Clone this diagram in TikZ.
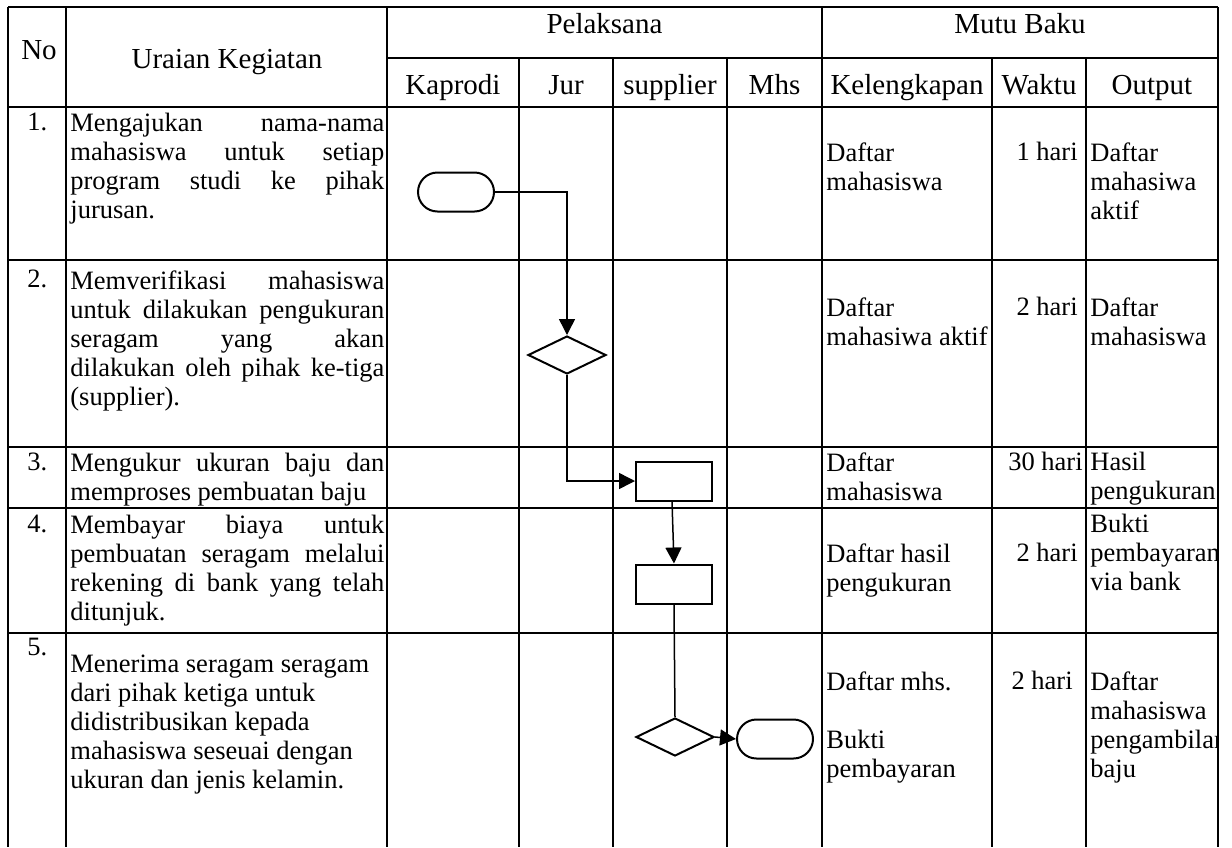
\documentclass[tikz,border=0pt]{standalone}
\usepackage{fontspec}
\setmainfont{Liberation Serif}
\usetikzlibrary{arrows.meta,shapes.geometric}

\newcommand{\jl}[1]{\makebox[157pt][s]{#1}}

\begin{document}
\begin{tikzpicture}[x=0.5pt, y=-0.5pt, >={Triangle[length=8pt,width=8pt]},
  tabline/.style={line width=0.65pt},
  terminal/.style={draw, line width=1pt, rounded corners=9.75pt, minimum width=38pt, minimum height=19.5pt, inner sep=0pt},
  process/.style={draw, line width=1pt, minimum width=38pt, minimum height=19.5pt, inner sep=0pt},
  decision/.style={draw, diamond, line width=1pt, minimum width=39pt, minimum height=19pt, inner sep=0pt},
  link/.style={line width=0.75pt},
  headtxt/.style={font=\fontsize{14.5}{16}\selectfont, inner sep=0pt},
  celltxt/.style={font=\fontsize{13.25}{14.5}\selectfont, inner sep=0pt, align=left}]

\useasboundingbox (0,0) rectangle (1232,847);

% Garis tabel

\foreach \y in {7,107,260,447,508,633}
  \draw [tabline] (8,\y) -- (1218,\y);
\draw [tabline] (387,58) -- (1218,58);

\foreach \x in {8,66,387,822,1218}
  \draw [tabline] (\x,7) -- (\x,847);

\foreach \x in {519,613,727,992,1086}
  \draw [tabline] (\x,58) -- (\x,847);

% Judul kolom

\node [headtxt, anchor=base] (h-no) at (39,59) {No};
\node [headtxt, anchor=base] (h-uraian) at (227,68) {Uraian Kegiatan};
\node [headtxt, anchor=base] (h-pelaksana) at (604.5,33) {Pelaksana};
\node [headtxt, anchor=base] (h-mutu) at (1020,33) {Mutu Baku};

\foreach \l/\x in {Kaprodi/453,Jur/566,supplier/670,Mhs/774.5,Kelengkapan/907,Waktu/1039,Output/1152}
  \node [headtxt, anchor=base] (h-\l) at (\x,94) {\l};

% Nomor dan uraian kegiatan

\foreach \n/\y in {1/113,2/270,3/453,4/515,5/638}
  \node [celltxt, anchor=north west] (no-\n) at (27,\y) {\n.};

\node [celltxt, anchor=north west] (u-1) at (70,113)
  {\jl{Mengajukan nama-nama}\\\jl{mahasiswa untuk setiap}\\\jl{program studi ke pihak}\\jurusan.};
\node [celltxt, anchor=north west] (u-2) at (70,270)
  {\jl{Memverifikasi mahasiswa}\\\jl{untuk dilakukan pengukuran}\\\jl{seragam yang akan}\\\jl{dilakukan oleh pihak ke-tiga}\\(supplier).};
\node [celltxt, anchor=north west] (u-3) at (70,453)
  {\jl{Mengukur ukuran baju dan}\\memproses pembuatan baju};
\node [celltxt, anchor=north west] (u-4) at (70,515)
  {\jl{Membayar biaya untuk}\\\jl{pembuatan seragam melalui}\\\jl{rekening di bank yang telah}\\ditunjuk.};
\node [celltxt, anchor=north west] (u-5) at (70,655)
  {Menerima seragam seragam\\dari pihak ketiga untuk\\didistribusikan kepada\\mahasiswa seseuai dengan\\ukuran dan jenis kelamin.};

% Mutu baku

\node [celltxt, anchor=north west] (k-1) at (826,142) {Daftar\\mahasiswa};
\node [celltxt, anchor=north west] (k-2) at (826,297) {Daftar\\mahasiwa aktif};
\node [celltxt, anchor=north west] (k-3) at (826,452) {Daftar\\mahasiswa};
\node [celltxt, anchor=north west] (k-4) at (826,543) {Daftar hasil\\pengukuran};
\node [celltxt, anchor=north west] (k-5) at (826,671) {Daftar mhs.\\[14.5pt]Bukti\\pembayaran};

\node [celltxt, anchor=north east] (w-1) at (1078,142) {1 hari};
\node [celltxt, anchor=north east] (w-2) at (1078,297) {2 hari};
\node [celltxt, anchor=north east] (w-3) at (1083,452) {30 hari};
\node [celltxt, anchor=north east] (w-4) at (1078,543) {2 hari};
\node [celltxt, anchor=north east] (w-5) at (1073,671) {2 hari};

\begin{scope}
\clip (1086,58) rectangle (1217,847);
\node [celltxt, anchor=north west] (o-1) at (1090,142) {Daftar\\mahasiwa\\aktif};
\node [celltxt, anchor=north west] (o-2) at (1090,297) {Daftar\\mahasiswa};
\node [celltxt, anchor=north west] (o-3) at (1090,452) {Hasil\\pengukuran};
\node [celltxt, anchor=north west] (o-4) at (1090,514) {Bukti\\pembayaran\\via bank};
\node [celltxt, anchor=north west] (o-5) at (1090,671) {Daftar\\mahasiswa\\pengambilan\\baju};
\end{scope}

% Bagan alir

\node [terminal] (mulai) at (456,192) {};
\node [decision] (verif) at (567,355) {};
\node [process] (ukur) at (674,481) {};
\node [process] (bayar) at (674,584) {};
\node [decision] (terima) at (675,737) {};
\node [terminal] (selesai) at (775,739) {};

\draw [link, ->] (mulai.east) -| (verif.north);
\draw [link, ->] (verif.south) |- (ukur.west);
\draw [link, ->] ([xshift=-1pt]ukur.south) -- (bayar.north);
\draw [link] (bayar.south) -- (terima.north);
\draw [link, ->] (terima.east) -- (selesai.west);

\end{tikzpicture}
\end{document}
